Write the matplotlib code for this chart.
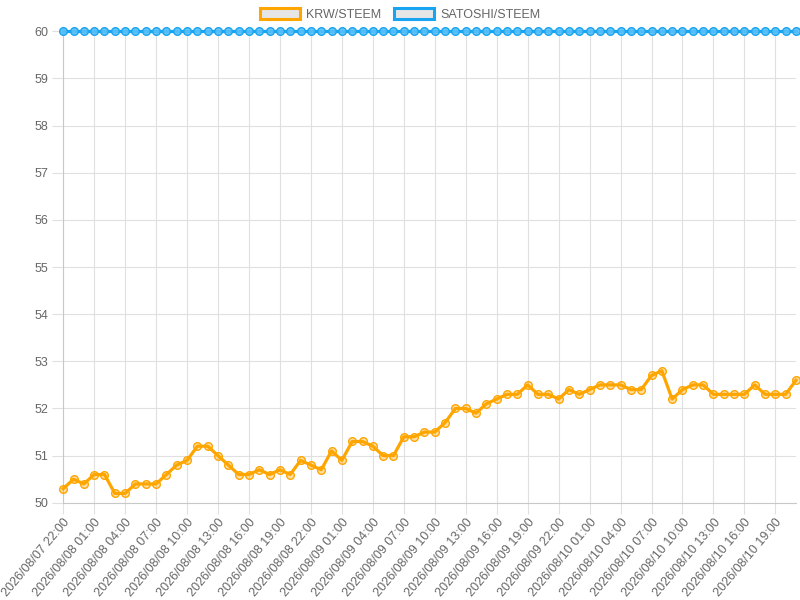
import matplotlib
matplotlib.use("Agg")
import matplotlib.pyplot as plt
from matplotlib.patches import Patch
from datetime import datetime, timedelta

plt.rcParams['font.family'] = ['Liberation Sans', 'DejaVu Sans']

start = datetime(2026, 8, 7, 22)
n = 72
times = [start + timedelta(hours=i) for i in range(n)]
labels = [t.strftime("%Y/%m/%d %H:%M") for t in times]

krw = [50.3, 50.5, 50.4, 50.6, 50.6, 50.2, 50.2, 50.4, 50.4, 50.4,
       50.6, 50.8, 50.9, 51.2, 51.2, 51.0, 50.8, 50.6, 50.6, 50.7,
       50.6, 50.7, 50.6, 50.9, 50.8, 50.7, 51.1, 50.9, 51.3, 51.3,
       51.2, 51.0, 51.0, 51.4, 51.4, 51.5, 51.5, 51.7, 52.0, 52.0,
       51.9, 52.1, 52.2, 52.3, 52.3, 52.5, 52.3, 52.3, 52.2, 52.4,
       52.3, 52.4, 52.5, 52.5, 52.5, 52.4, 52.4, 52.7, 52.8, 52.2,
       52.4, 52.5, 52.5, 52.3, 52.3, 52.3, 52.3, 52.5, 52.3, 52.3,
       52.3, 52.6]
satoshi = [60] * n

orange = '#FFA500'
blue = '#18A4F0'
grid_c = '#E0E0E0'
text_c = '#666666'

fig = plt.figure(figsize=(8, 6), dpi=100)
ax = fig.add_axes([0.079, 0.162, 0.916, 0.786])

x = list(range(n))
ax.plot(x, krw, color=orange, lw=2.3, marker='o', ms=5.5,
        mfc=(1.0, 0.65, 0.0, 0.35), mec=orange, mew=1.0, clip_on=False, zorder=3)
ax.plot(x, satoshi, color=blue, lw=2.3, marker='o', ms=5.5,
        mfc=(0.35, 0.75, 0.97, 0.9), mec=blue, mew=1.0, clip_on=False, zorder=3)

ax.set_xlim(0, n - 1)
ax.set_ylim(50, 60)
ax.set_yticks(range(50, 61))
xt = list(range(0, n, 3))
ax.set_xticks(xt)
ax.set_xticklabels([labels[i] for i in xt], rotation=50, ha='right',
                   rotation_mode='anchor', fontsize=9, color=text_c)
ax.tick_params(axis='y', labelsize=9, labelcolor=text_c, length=8, color=grid_c, width=0.8, pad=3)
ax.tick_params(axis='x', length=8, color=grid_c, width=0.8, pad=2)
ax.grid(True, color=grid_c, lw=0.8)
ax.set_axisbelow(True)
for s in ['top', 'right']:
    ax.spines[s].set_visible(False)
for s in ['left', 'bottom']:
    ax.spines[s].set_color('#C8C8C8')
    ax.spines[s].set_linewidth(0.8)

handles = [Patch(facecolor='#E6E6E6', edgecolor=orange, lw=2.2, label='KRW/STEEM'),
           Patch(facecolor='#E6E6E6', edgecolor=blue, lw=2.2, label='SATOSHI/STEEM')]
leg = fig.legend(handles=handles, loc='center', bbox_to_anchor=(0.5, 0.976), ncol=2,
                 frameon=False, fontsize=9, handlelength=3.2, handleheight=0.95,
                 handletextpad=0.5, columnspacing=1.0)
for t in leg.get_texts():
    t.set_color(text_c)

fig.savefig('out.png', dpi=100)
